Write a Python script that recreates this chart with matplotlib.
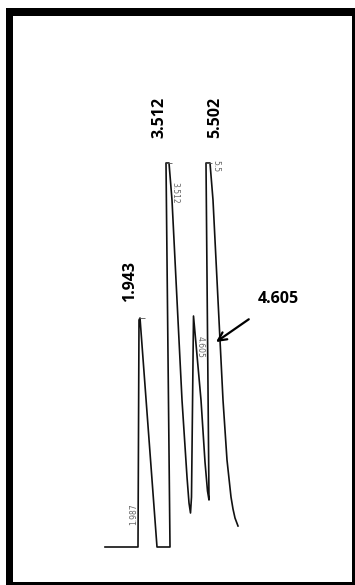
import matplotlib.pyplot as plt
from matplotlib.patches import Rectangle

# trace of the scanned chromatogram (horizontal = time, vertical = signal)
trace_t = [105, 138, 139, 140, 157, 170, 166, 169, 172, 182, 187, 189, 190.5, 191.5,
           193.5, 201, 205, 207.5, 209, 206, 210, 213, 223, 227, 231, 233,
           235, 238]
trace_s = [0, 0, 227, 229, 0, 0, 384, 384, 347, 147, 70, 44, 34, 50,
           231, 147, 85, 56, 47, 384, 384, 347, 147, 87, 50, 38,
           29, 21]

# bold retention time labels
rt_labels = ['1.943', '3.512', '5.502']
rt_x = [130, 159, 215]
rt_y = [266, 430, 430]

# faint printed labels of the integrator
small_labels = ['1.987', '3.512', '4.605', '5.5']
small_x = [134, 175, 200, 216]
small_y = [33, 354, 200, 381]
small_rot = [90, -90, -90, -90]

# tick marks at peak apexes
apex_t = [139, 166, 206]
apex_s = [229, 384, 384]

fig = plt.figure(figsize=(3.55, 5.85), dpi=100)
fig.add_artist(Rectangle((6 / 355, 0), 349 / 355, 577 / 585, transform=fig.transFigure,
                         facecolor='black', edgecolor='none', zorder=0))
fig.add_artist(Rectangle((13 / 355, 3 / 585), 339 / 355, 566 / 585, transform=fig.transFigure,
                         facecolor='white', edgecolor='none', zorder=0))

ax = fig.add_axes([0, 0, 1, 1])
ax.patch.set_visible(False)
ax.set_xlim(0, 355)
ax.set_ylim(-38, 547)
ax.axis('off')

ax.plot(trace_t, trace_s, color='#111111', lw=1.2, solid_joinstyle='round')
ax.hlines(apex_s, apex_t, [t + 6 for t in apex_t], color='#555555', lw=0.6)

for lab, x, y in zip(rt_labels, rt_x, rt_y):
    ax.text(x, y, lab, rotation=90, ha='center', va='center', fontsize=11.5,
            fontweight='bold', family='Open Sans', color='black')

for lab, x, y, r in zip(small_labels, small_x, small_y, small_rot):
    ax.text(x, y, lab, rotation=r, ha='center', va='center', fontsize=5.5,
            color='#666666')

ax.annotate('4.605', xy=(216, 205), xytext=(278, 248), ha='center', va='center',
            fontsize=11.5, fontweight='bold', family='Open Sans',
            arrowprops=dict(arrowstyle='->', color='black', lw=1.6,
                            shrinkA=12, shrinkB=0, mutation_scale=15))

fig.savefig('out.png', dpi=100)
